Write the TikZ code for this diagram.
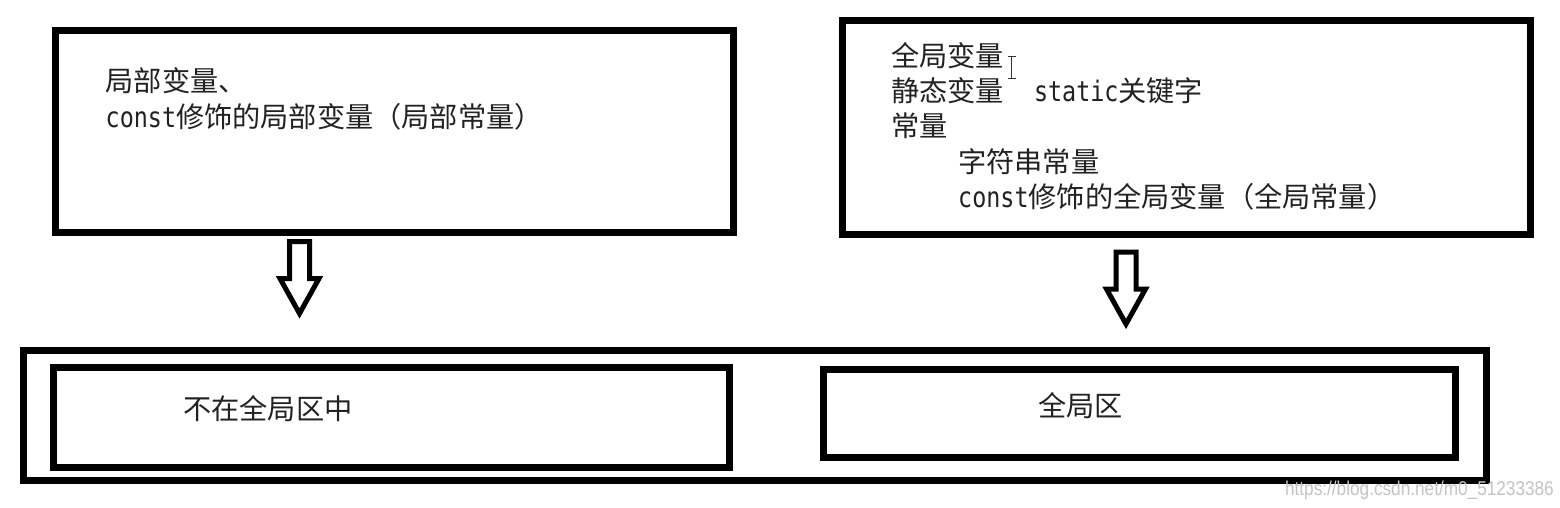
\documentclass[tikz,border=0pt]{standalone}
\usepackage{fontspec}
\setmainfont{Noto Sans CJK SC}
\newfontfamily\monof[FakeStretch=0.83]{DejaVu Sans Mono}
\newfontfamily\wmfont{Liberation Sans}
\definecolor{ink}{HTML}{222222}
\definecolor{wmgray}{HTML}{C4C4C4}
\begin{document}
\begin{tikzpicture}[x=1pt,y=-1pt,
  box/.style={draw=black, line width=7pt, line join=miter, rectangle, inner sep=0pt, outer sep=0pt},
  txt/.style={anchor=base west, inner sep=0pt, text=ink, font=\fontsize{28.2}{35}\selectfont},
  arrowline/.style={draw=black, line width=5pt, line join=miter, fill=white},
  downarrow/.pic={\path[arrowline] (-10,0) -- (10,0) -- (10,37) -- (19.5,37) -- (0,72) -- (-19.5,37) -- (-10,37) -- cycle;}
]
\useasboundingbox[fill=white] (0,0) rectangle (1560,508);

% top boxes
\node[box, minimum width=678.3pt, minimum height=201.3pt] (tl) at (394.15,131.35) {};
\node[box, minimum width=687.5pt, minimum height=213pt] (tr) at (1186.25,127.5) {};

% bottom boxes
\node[box, minimum width=1463pt, minimum height=130pt] (outer) at (754.5,415.5) {};
\node[box, minimum width=676.3pt, minimum height=100.7pt] (bl) at (391.15,417.35) {};
\node[box, minimum width=631.7pt, minimum height=88.3pt] (br) at (1139.15,413.65) {};

% block arrows
\coordinate (la) at (299.5,241.5);
\coordinate (ra) at (1126,252);
\pic at (la) {downarrow};
\pic at (ra) {downarrow};

% left box text
\node[txt] (l1) at (105.5,91.5) {局部变量、};
\node[txt] (l2) at (105.5,127.5) {{\monof const}修饰的局部变量（局部常量）};

% right box text
\node[txt] (r1) at (891,67) {全局变量};
\node[txt] (r2) at (891,102) {静态变量\hspace{30pt}{\monof static}关键字};
\node[txt] (r3) at (891,137) {常量};
\node[txt] (r4) at (958,172) {字符串常量};
\node[txt] (r5) at (958,207) {{\monof const}修饰的全局变量（全局常量）};

% text cursor
\draw[draw=black!80, line width=1.8pt] (1007.5,56.5) -- (1015.5,56.5) (1011.5,56.5) -- (1011.5,78.5) (1007.5,78.5) -- (1015.5,78.5);

% bottom texts
\node[txt] (b1) at (183,419.5) {不在全局区中};
\node[txt] (b2) at (1038,416.5) {全局区};

% watermark
\node[anchor=east, inner sep=0pt, text=wmgray, font=\wmfont\fontsize{20}{22}\selectfont] (wm) at (1554,490) {\scalebox{0.86}[1]{https://blog.csdn.net/m0\_51233386}};
\end{tikzpicture}
\end{document}
